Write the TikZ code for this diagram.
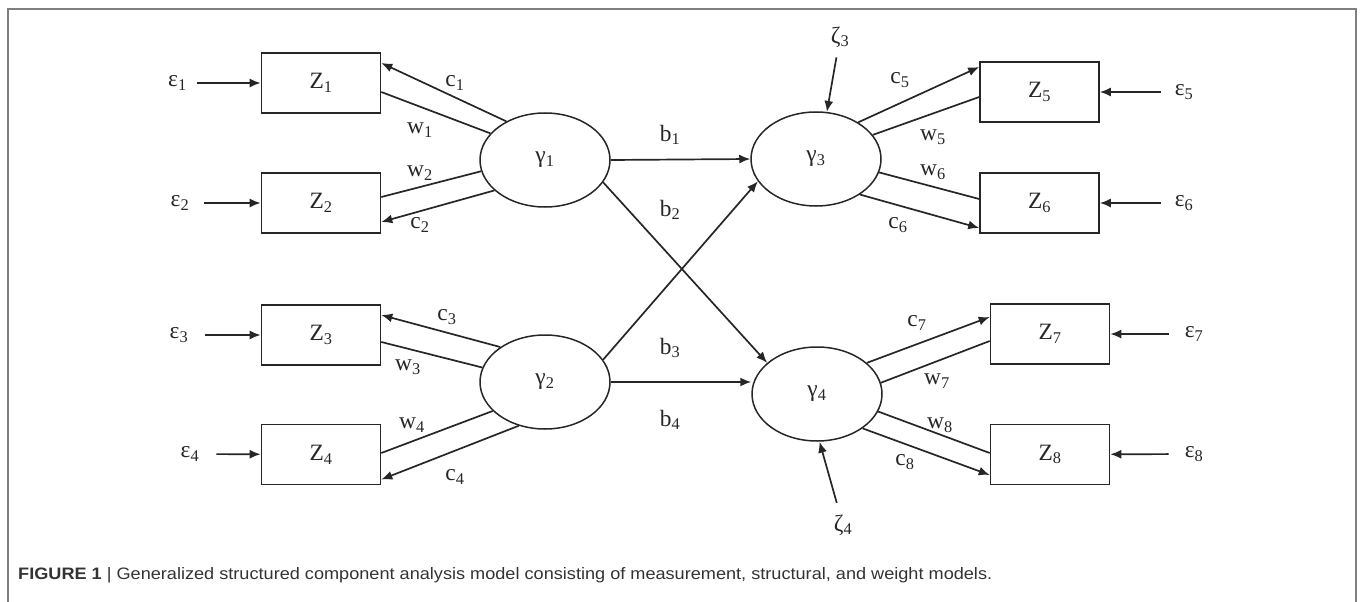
\documentclass[tikz,border=0pt]{standalone}
\usepackage{fontspec}
\setmainfont{Liberation Serif}
\newfontfamily\capfont{Liberation Sans}
\usetikzlibrary{arrows.meta,calc,shapes.geometric}
\definecolor{ink}{HTML}{262626}
\definecolor{capink}{HTML}{333333}
\definecolor{frame}{HTML}{7F7F7F}
\newcommand{\sbx}[1]{\textsubscript{#1}}
\begin{document}
\begin{tikzpicture}[x=1bp,y=-1bp,
  lbl/.style={font=\fontsize{23.5}{26}\selectfont, inner sep=0pt, text=ink},
  obs/.style={draw=ink, line width=1.6bp, minimum width=119bp, minimum height=60bp, inner sep=0pt, font=\fontsize{23.5}{26}\selectfont, text=ink},
  lat/.style={ellipse, draw=ink, line width=1.5bp, minimum width=130bp, minimum height=94bp, inner sep=0pt, font=\fontsize{23.5}{26}\selectfont, text=ink},
  arr/.style={draw=ink, line width=1.7bp, -{Latex[length=11bp,width=9bp]}},
  ln/.style={draw=ink, line width=1.7bp},
]
\useasboundingbox (0,0) rectangle (1360,602);
\draw[frame, line width=1.5bp] (8,602) -- (8,9) -- (1356,9) -- (1356,602);

% observed variables
\node[obs] (z1) at (321,83) {Z\sbx{1}};
\node[obs] (z2) at (321,203) {Z\sbx{2}};
\node[obs] (z3) at (321,335) {Z\sbx{3}};
\node[obs] (z4) at (321,454.5) {Z\sbx{4}};
\node[obs] (z5) at (1039.5,92) {Z\sbx{5}};
\node[obs] (z6) at (1039.5,203) {Z\sbx{6}};
\node[obs] (z7) at (1050,334) {Z\sbx{7}};
\node[obs] (z8) at (1050,454.5) {Z\sbx{8}};

% latent variables
\node[lat] (g1) at (545,160) {γ\sbx{1}};
\node[lat] (g2) at (545,382) {γ\sbx{2}};
\node[lat] (g3) at (816,159) {γ\sbx{3}};
\node[lat] (g4) at (817,394) {γ\sbx{4}};

% errors
\node[lbl] (e1) at (177.5,83) {ε\sbx{1}};
\node[lbl] (e2) at (180,203) {ε\sbx{2}};
\node[lbl] (e3) at (179,335) {ε\sbx{3}};
\node[lbl] (e4) at (190,454) {ε\sbx{4}};
\node[lbl] (e5) at (1184,92) {ε\sbx{5}};
\node[lbl] (e6) at (1184,203) {ε\sbx{6}};
\node[lbl] (e7) at (1194,334) {ε\sbx{7}};
\node[lbl] (e8) at (1194,454) {ε\sbx{8}};
\node[lbl] (zeta3) at (840,37) {ζ\sbx{3}};
\node[lbl] (zeta4) at (843,525) {ζ\sbx{4}};

\draw[arr, shorten <=10bp] (e1) -- (z1);
\draw[arr, shorten <=15bp] (e2) -- (z2);
\draw[arr, shorten <=17bp] (e3) -- (z3);
\draw[arr, shorten <=17bp] (e4) -- (z4);
\draw[arr, shorten <=14bp] (e5) -- (z5);
\draw[arr, shorten <=14bp] (e6) -- (z6);
\draw[arr, shorten <=16bp] (e7) -- (z7);
\draw[arr, shorten <=16bp] (e8) -- (z8);
\draw[arr, shorten <=10bp] (zeta3) -- (g3.77);
\draw[arr, shorten <=12bp] (zeta4) -- (g4.273);

% measurement / weight paths, left
\draw[arr] (g1.135) -- ($(z1.east)+(0,-20)$);
\draw[ln]  ($(z1.east)+(0,9)$) -- (g1.154);
\draw[ln]  ($(z2.east)+(0,-6)$) -- (g1.190);
\draw[arr] (g1.211) -- ($(z2.east)+(0,19)$);
\draw[arr] (g2.142) -- ($(z3.east)+(0,-20)$);
\draw[ln]  ($(z3.east)+(0,7)$) -- (g2.167);
\draw[ln]  ($(z4.east)+(0,-1.5)$) -- (g2.209);
\draw[arr] (g2.239) -- ($(z4.east)+(0,25)$);

% right
\draw[arr] (g3.41) -- ($(z5.west)+(0,-25)$);
\draw[ln]  (g3.23) -- ($(z5.west)+(0,5)$);
\draw[ln]  (g3.348) -- ($(z6.west)+(0,-4)$);
\draw[arr] (g3.321) -- ($(z6.west)+(0,25)$);
\draw[arr] (g4.32) -- ($(z7.west)+(0,-17)$);
\draw[ln]  (g4.10) -- ($(z7.west)+(0,7)$);
\draw[ln]  (g4.344) -- ($(z8.west)+(0,-1.5)$);
\draw[arr] (g4.323) -- ($(z8.west)+(0,20.5)$);

% structural paths
\draw[arr] (g1.east) -- (g3.west);
\draw[arr] (g1.339) -- (g4.148);
\draw[arr] (g2.21) -- (g3.201);
\draw[arr] (g2.east) -- (g2.east -| g4.west);

% labels
\node[lbl] (lb1) at (670,135) {b\sbx{1}};
\node[lbl] (lb2) at (670,210) {b\sbx{2}};
\node[lbl] (lb3) at (670,348) {b\sbx{3}};
\node[lbl] (lb4) at (670,420) {b\sbx{4}};
\node[lbl] (lc1) at (455,83) {c\sbx{1}};
\node[lbl] (lw1) at (420,130) {w\sbx{1}};
\node[lbl] (lw2) at (420,173) {w\sbx{2}};
\node[lbl] (lc2) at (420,225) {c\sbx{2}};
\node[lbl] (lc3) at (447,317) {c\sbx{3}};
\node[lbl] (lw3) at (408,367) {w\sbx{3}};
\node[lbl] (lw4) at (412,425) {w\sbx{4}};
\node[lbl] (lc4) at (455,477) {c\sbx{4}};
\node[lbl] (lc5) at (900,80) {c\sbx{5}};
\node[lbl] (lw5) at (933,137) {w\sbx{5}};
\node[lbl] (lw6) at (933,172) {w\sbx{6}};
\node[lbl] (lc6) at (898,225) {c\sbx{6}};
\node[lbl] (lc7) at (917,323) {c\sbx{7}};
\node[lbl] (lw7) at (937,381) {w\sbx{7}};
\node[lbl] (lw8) at (940,425) {w\sbx{8}};
\node[lbl] (lc8) at (905,462) {c\sbx{8}};

% caption
\node[anchor=base west, inner sep=0pt] (cap) at (18,579) {\resizebox{974bp}{12bp}{\capfont\fontsize{14}{16}\selectfont\color{capink}\textbf{FIGURE 1} | Generalized structured component analysis model consisting of measurement, structural, and weight models.}};
\end{tikzpicture}
\end{document}
